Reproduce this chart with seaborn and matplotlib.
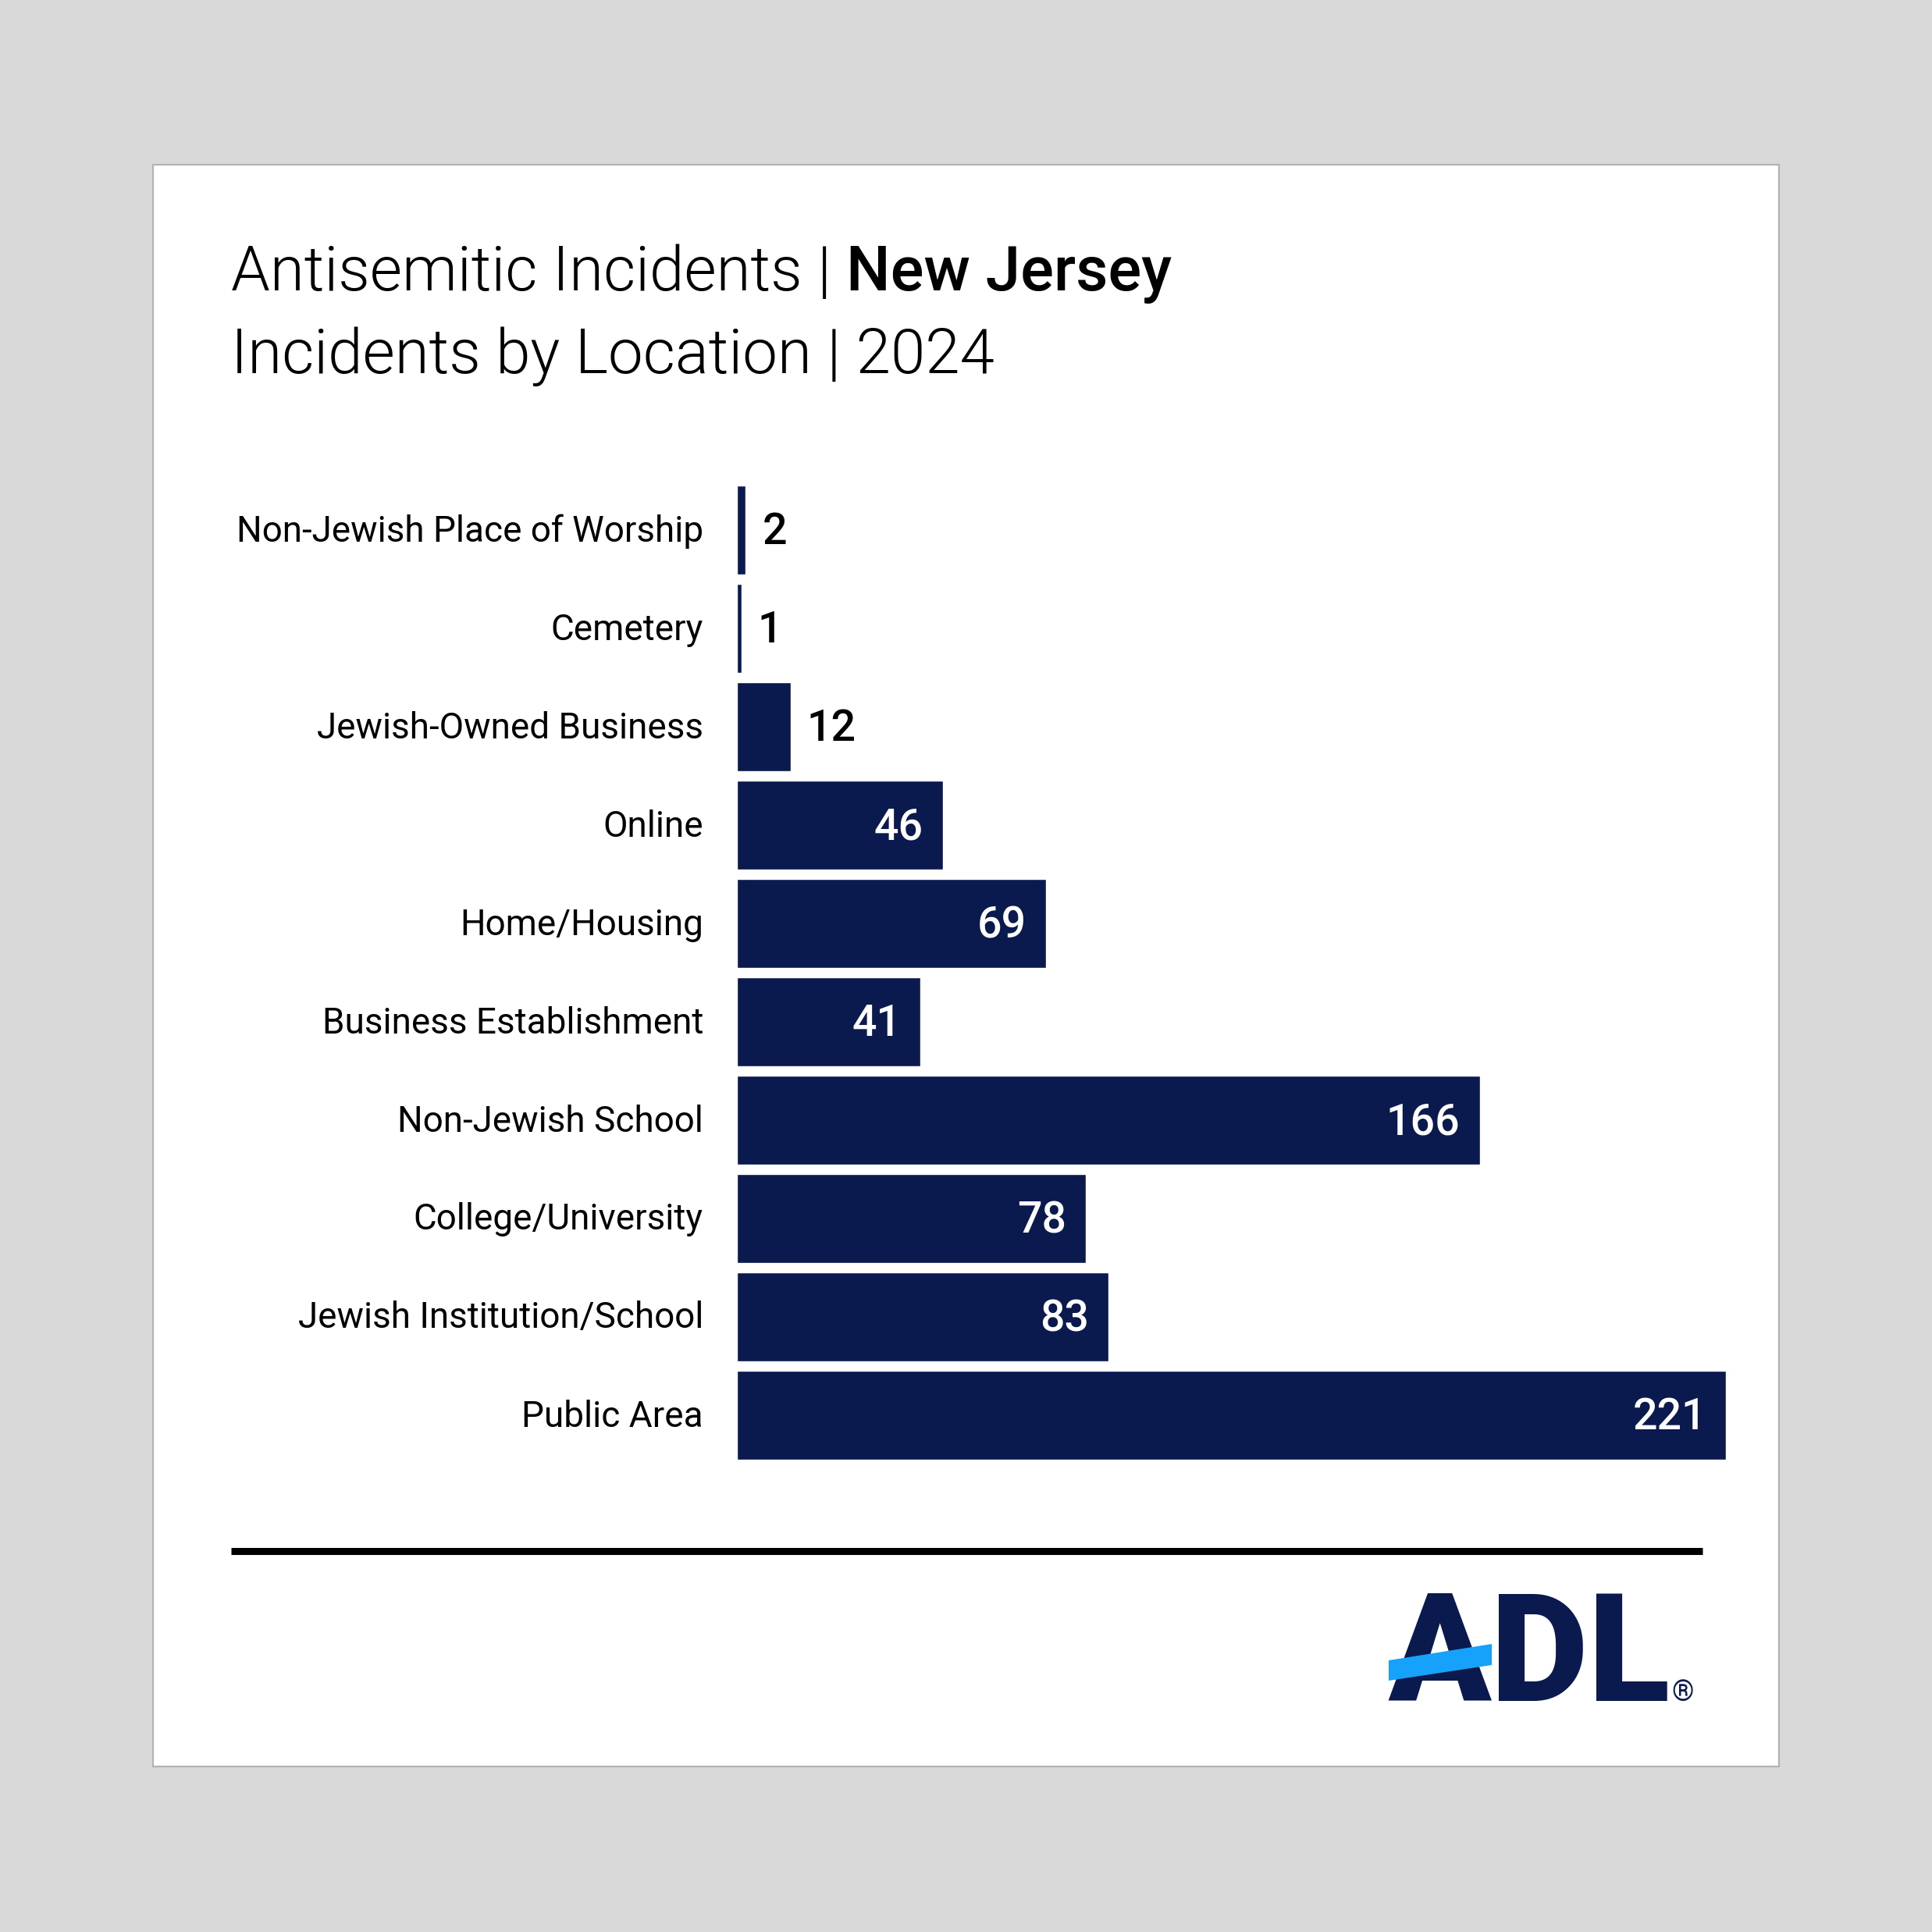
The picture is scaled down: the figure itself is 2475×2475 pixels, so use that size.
import os
import matplotlib
matplotlib.use("Agg")
import matplotlib.pyplot as plt
from matplotlib import font_manager as fm
from matplotlib.patches import Rectangle, Polygon
from matplotlib.lines import Line2D
from matplotlib.transforms import ScaledTranslation
import seaborn as sns

categories = ['Non-Jewish Place of Worship', 'Cemetery', 'Jewish-Owned Business',
              'Online', 'Home/Housing', 'Business Establishment', 'Non-Jewish School',
              'College/University', 'Jewish Institution/School', 'Public Area']
incidents = [2, 1, 12, 46, 69, 41, 166, 78, 83, 221]

title_light = 'Antisemitic Incidents | '
title_bold = 'New Jersey'
subtitle = 'Incidents by Location | 2024'

NAVY = '#0b1a4e'
BLUE = '#16a2fb'
W = 2475

sns.set_theme(style='white')
plt.rcParams['font.family'] = ['Roboto', 'DejaVu Sans']


def roboto(style, weight, size):
    # pick the static Roboto file for a style if it is there
    for f in fm.fontManager.ttflist:
        base = os.path.basename(f.fname)
        if base.lower() == f'roboto-{style}.ttf':
            return fm.FontProperties(fname=f.fname, size=size)
    return fm.FontProperties(family='Roboto', weight=weight, size=size)


def fx(px):
    return px / W


def fy(py):
    return 1 - py / W


fig = plt.figure(figsize=(24.75, 24.75), dpi=100, facecolor='#d9d9d9')

# white card behind everything
fig.patches.append(Rectangle((fx(196), fy(2263)), fx(2279) - fx(196), fy(211) - fy(2263),
                             transform=fig.transFigure, facecolor='white',
                             edgecolor='#b3b3b3', linewidth=1.6, zorder=-5))

ax = fig.add_axes([fx(944), fy(1876), fx(2211) - fx(944), fy(616) - fy(1876)])
ax.set_facecolor('none')
sns.barplot(x=incidents, y=categories, orient='h', color=NAVY, saturation=1,
            width=0.9, ax=ax)
ax.set_xlim(0, 221)
ax.set_ylim(len(categories) - 0.5, -0.5)
sns.despine(ax=ax, left=True, bottom=True)
ax.set_xticks([])
ax.set_xlabel('')
ax.set_ylabel('')
ax.tick_params(axis='y', length=0, pad=31, labelsize=33, labelcolor='#000000')
nudge = ScaledTranslation(0, 0.03, fig.dpi_scale_trans)
for lab in ax.get_yticklabels():
    lab.set_transform(lab.get_transform() + nudge)

val_font = roboto('medium', 'medium', 40)
for bar, val in zip(ax.patches, incidents):
    yc = bar.get_y() + bar.get_height() / 2
    if val > 20:
        ax.annotate(str(val), (val, yc), xytext=(-18, 2), textcoords='offset points',
                    ha='right', va='center_baseline', color='white',
                    fontproperties=val_font)
    else:
        ax.annotate(str(val), (val, yc), xytext=(15, 2), textcoords='offset points',
                    ha='left', va='center_baseline', color='black',
                    fontproperties=val_font)

# titles
light = roboto('light', 'light', 57.5)
t1 = fig.text(fx(296), fy(372), title_light, fontproperties=light,
              ha='left', va='baseline', color='black')
fig.canvas.draw()
bb = t1.get_window_extent()
fig.text(bb.x1 / W, fy(372), title_bold, fontproperties=roboto('medium', 'bold', 57.5),
         ha='left', va='baseline', color='black')
fig.text(fx(296), fy(478), subtitle, fontproperties=light,
         ha='left', va='baseline', color='black')

# rule
fig.lines.append(Line2D([fx(296), fx(2181)], [fy(1986.5), fy(1986.5)],
                        transform=fig.transFigure, color='black', linewidth=6.5,
                        solid_capstyle='butt'))

# logo
fig.text(fx(1778), fy(2179), 'ADL', fontsize=139, fontweight='black', color=NAVY,
         ha='left', va='baseline')
fig.patches.append(Polygon([(fx(1779), fy(2153)), (fx(1779), fy(2127)),
                            (fx(1911), fy(2106)), (fx(1911), fy(2133))],
                           closed=True, transform=fig.transFigure,
                           facecolor=BLUE, edgecolor='none', zorder=5))
fig.text(fx(2141), fy(2179), '\u00ae', fontsize=26, color=NAVY, ha='left',
         va='baseline')

fig.savefig('out.png', dpi=100, facecolor=fig.get_facecolor())
